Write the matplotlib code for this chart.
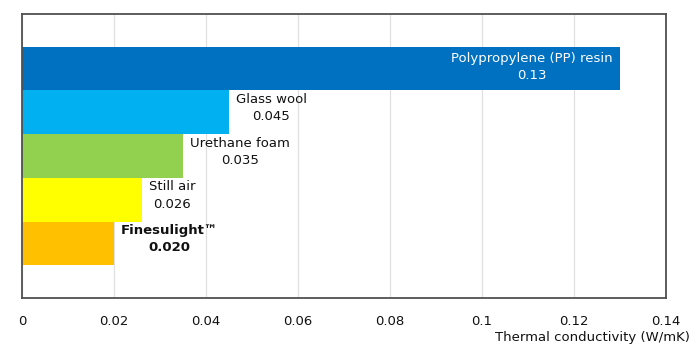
import matplotlib.pyplot as plt

materials = ["Finesulight\u2122", "Still air", "Urethane foam", "Glass wool", "Polypropylene (PP) resin"]
values = [0.020, 0.026, 0.035, 0.045, 0.13]
value_labels = ["0.020", "0.026", "0.035", "0.045", "0.13"]
colors = ["#FFC000", "#FFFF00", "#92D050", "#00B0F0", "#0070C0"]
xticks = [0, 0.02, 0.04, 0.06, 0.08, 0.1, 0.12, 0.14]
xtick_labels = ["0", "0.02", "0.04", "0.06", "0.08", "0.1", "0.12", "0.14"]

fig = plt.figure(figsize=(7, 3.56), dpi=100)
ax = fig.add_axes([22 / 700, 1 - 298 / 356, 644 / 700, 284 / 356])

pos = list(range(len(materials)))
ax.barh(pos, values, height=1.0, color=colors, zorder=2)

for i, (name, v, lab) in enumerate(zip(materials, values, value_labels)):
    text = name + "\n" + lab
    if i == len(materials) - 1:
        # the long bar gets its label inside, in white
        ax.annotate(text, (v, i), xytext=(-5, 1), textcoords="offset points",
                    ha="right", va="center", multialignment="center",
                    color="white", fontsize=9.5, linespacing=1.45, zorder=3)
    else:
        ax.annotate(text, (v, i), xytext=(5, 3), textcoords="offset points",
                    ha="left", va="center", multialignment="center",
                    color="#111111", fontsize=9.5, linespacing=1.45,
                    fontweight="bold" if i == 0 else "normal", zorder=3)

ax.set_xlim(0, 0.14)
ax.set_ylim(-1.25, 5.25)
ax.set_xticks(xticks)
ax.set_xticklabels(xtick_labels, fontsize=9.5, color="#111111")
ax.set_yticks([])
ax.tick_params(axis="x", length=0, pad=12)
ax.grid(axis="x", color="#E0E0E0", linewidth=0.9, zorder=0)
for s in ax.spines.values():
    s.set_color("#505050")
    s.set_linewidth(1.3)

fig.text(690 / 700, 1 - 337 / 356, "Thermal conductivity (W/mK)", ha="right", va="center",
         fontsize=9.5, color="#111111")

fig.savefig("out.png", dpi=100)
